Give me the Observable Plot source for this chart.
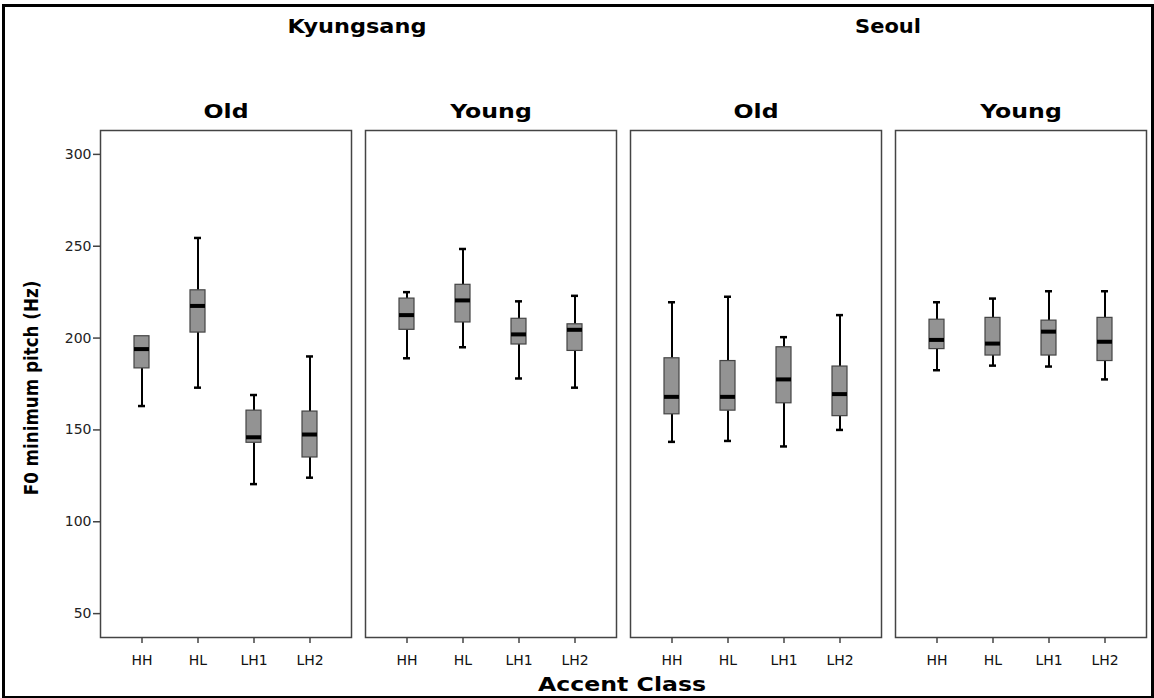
<!DOCTYPE html>
<html>
<head>
<meta charset="utf-8">
<script src="https://cdn.jsdelivr.net/npm/d3@7"></script>
<script src="https://cdn.jsdelivr.net/npm/@observablehq/plot@0.6"></script>
<style>
  html, body { margin: 0; padding: 0; background: #fff; }
  #wrap { position: relative; width: 1154px; height: 698px; overflow: hidden; font-family: "DejaVu Sans", sans-serif; }
  #border { position: absolute; left: 2px; top: 4px; width: 1146px; height: 689px; border: 3px solid #000; box-sizing: content-box; }
  .ttl { position: absolute; font-weight: bold; color: #000; white-space: nowrap; }
  #chart { position: absolute; left: 0; top: 0; }
</style>
</head>
<body>
<div id="wrap">
  <div id="chart"></div>
  <div id="border"></div>
</div>
<script>
// ---- data ----
const dialects = ["Kyungsang", "Kyungsang", "Seoul", "Seoul"];
const ages = ["Old", "Young", "Old", "Young"];
const accents = ["HH", "HL", "LH1", "LH2"];
const yTicks = [50, 100, 150, 200, 250, 300];
// one row per panel, one entry per accent class
const whiskerLow  = [[163, 173, 120.5, 124], [189, 195, 178, 173], [143.5, 144, 141, 150], [182.5, 185, 184.5, 177.5]];
const q1          = [[183.5, 203, 143, 135], [204.5, 208.5, 196.5, 193], [158.5, 160.5, 164.5, 157.5], [194, 190.5, 190.5, 187.5]];
const median      = [[194, 217.5, 146, 147.5], [212.5, 220.5, 202, 204.5], [168, 168, 177.5, 169.5], [199, 197, 203.5, 198]];
const q3          = [[201, 226, 160.5, 160], [221.5, 229, 210.5, 207.5], [189, 187.5, 195, 184.5], [210, 211, 209.5, 211]];
const whiskerHigh = [[201, 254.5, 169, 190], [225, 248.5, 220, 223], [219.5, 222.5, 200.5, 212.5], [219.5, 221.5, 225.5, 225.5]];

const panels = dialects.map((d, i) => d + " " + ages[i]);
const rows = [];
panels.forEach((p, i) => accents.forEach((a, j) => rows.push({
  panel: p, accent: a,
  low: whiskerLow[i][j], q1: q1[i][j], median: median[i][j], q3: q3[i][j], high: whiskerHigh[i][j]
})));

const font = "DejaVu Sans";
const chart = Plot.plot({
  width: 1154,
  height: 698,
  marginLeft: 99,
  marginRight: 8,
  marginTop: 130,
  marginBottom: 61,
  style: { fontFamily: font, fontSize: "14px", color: "#222", background: "transparent" },
  fx: { domain: panels, paddingInner: 0.053, paddingOuter: 0, label: null },
  x: { domain: accents, paddingInner: 0.732, paddingOuter: 0.607, label: null },
  y: { domain: [37, 313], label: null },
  marks: [
    Plot.frame({ stroke: "#444", strokeWidth: 1.5 }),
    Plot.axisFx({ anchor: "top", tickSize: 0, tickPadding: 13, fontSize: 20, fontWeight: "bold", fill: "#000",
                  tickFormat: d => d.split(" ")[1], label: null }),
    Plot.axisY({ ticks: yTicks, tickSize: 7, tickPadding: 2, stroke: "#444", strokeWidth: 1.5, fill: "#222",
                 fontSize: 14, label: null }),
    Plot.axisX({ tickSize: 6, tickPadding: 12, stroke: "#444", strokeWidth: 1.5, fill: "#111",
                 fontSize: 14, label: null }),
    // whiskers
    Plot.ruleX(rows, { fx: "panel", x: "accent", y1: "low", y2: "q1", stroke: "#000", strokeWidth: 2 }),
    Plot.ruleX(rows, { fx: "panel", x: "accent", y1: "q3", y2: "high", stroke: "#000", strokeWidth: 2 }),
    Plot.tickY(rows, { fx: "panel", x: "accent", y: "low", stroke: "#000", strokeWidth: 2.5, insetLeft: 4, insetRight: 4 }),
    Plot.tickY(rows.filter(d => d.high > d.q3), { fx: "panel", x: "accent", y: "high", stroke: "#000", strokeWidth: 2.5, insetLeft: 4, insetRight: 4 }),
    // boxes
    Plot.barY(rows, { fx: "panel", x: "accent", y1: "q1", y2: "q3", fill: "#939393", stroke: "#444", strokeWidth: 1.2 }),
    Plot.tickY(rows, { fx: "panel", x: "accent", y: "median", stroke: "#000", strokeWidth: 4 })
  ]
});
document.getElementById("chart").appendChild(chart);
// widen the bold panel titles a little, as in the reference
d3.select(chart).selectAll('g[aria-label="fx-axis tick label"] text').each(function () {
  const t = this.getAttribute("transform") || "";
  this.setAttribute("transform", t + " scale(1.18,1)");
});

// titles outside the plotting frame
const wrap = document.getElementById("wrap");
function addTitle(text, x, y, size, tf) {
  const el = document.createElement("div");
  el.className = "ttl";
  el.textContent = text;
  el.style.left = x + "px";
  el.style.top = y + "px";
  el.style.fontSize = size + "px";
  el.style.transform = "translate(-50%, -50%) " + tf;
  wrap.appendChild(el);
}
addTitle(dialects[0], 357, 26, 20, "scaleX(1.12)");
addTitle(dialects[2], 888, 26, 20, "scaleX(1.05)");
addTitle("Accent Class", 622, 684, 20, "scaleX(1.18)");
addTitle("F0 minimum pitch (Hz)", 31, 388, 19, "rotate(-90deg) scaleX(0.88)");
</script>
</body>
</html>
